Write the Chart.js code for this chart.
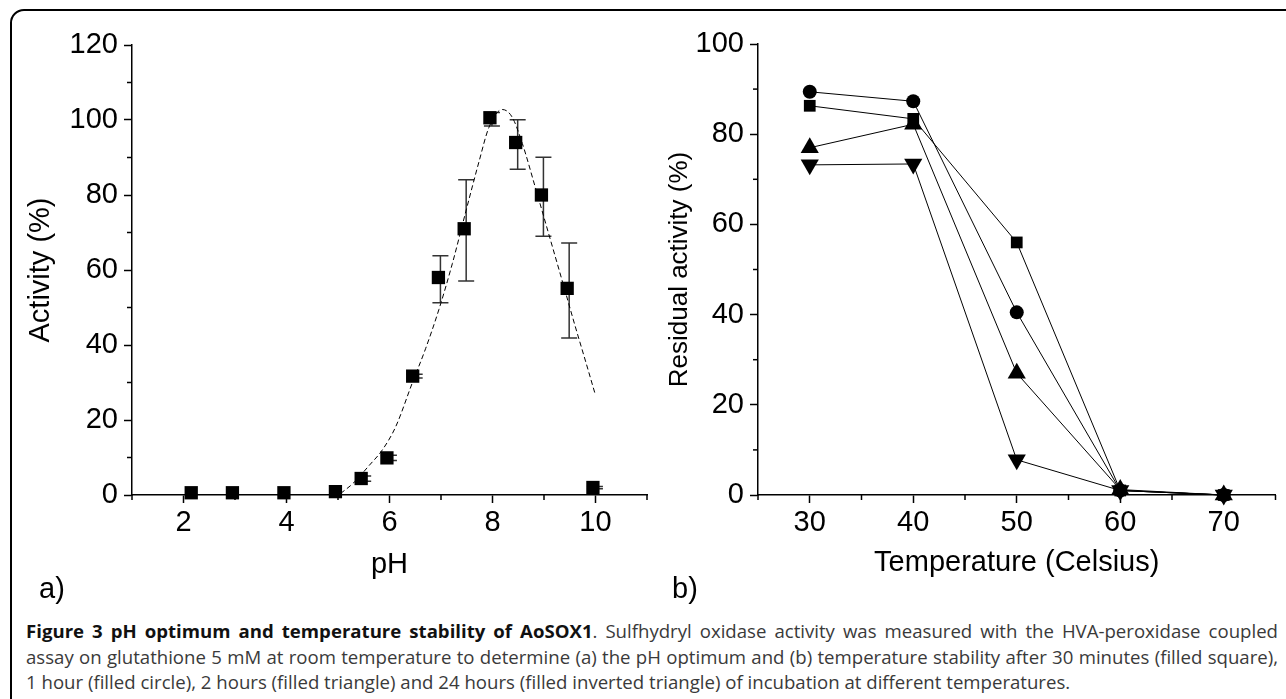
<!DOCTYPE html>
<html>
<head>
<meta charset="utf-8">
<script src="https://cdn.jsdelivr.net/npm/chart.js@4.4.1/dist/chart.umd.min.js"></script>
<style>
body { margin:0; width:1286px; height:699px; overflow:hidden; background:#fff; position:relative; font-family:"Liberation Sans", Arial, sans-serif; }
#frame { position:absolute; left:10px; top:9px; width:1300px; height:720px; border:2px solid #000; border-radius:14px; }
#phChart { position:absolute; left:0; top:0; }
#tempChart { position:absolute; left:640px; top:0; }
.panel { position:absolute; top:571px; font-size:29px; line-height:34px; color:#000; }
.cap { position:absolute; left:26px; font-family:"Open Sans", sans-serif; font-size:18px; line-height:25px; white-space:nowrap; transform-origin:0 0; color:#3a3a3a; text-align:justify; text-align-last:justify; }
.cap b { color:#111; }
</style>
</head>
<body>
<div id="frame"></div>
<canvas id="phChart" width="660" height="595"></canvas>
<canvas id="tempChart" width="646" height="595"></canvas>
<div class="panel" style="left:39px">a)</div>
<div class="panel" style="left:672px">b)</div>
<div class="cap" style="top:619px"><b>Figure 3 pH optimum and temperature stability of AoSOX1</b>. Sulfhydryl oxidase activity was measured with the HVA-peroxidase coupled</div>
<div class="cap" style="top:645px">assay on glutathione 5 mM at room temperature to determine (a) the pH optimum and (b) temperature stability after 30 minutes (filled square),</div>
<div class="cap" style="top:670px;text-align:left;text-align-last:left">1 hour (filled circle), 2 hours (filled triangle) and 24 hours (filled inverted triangle) of incubation at different temperatures.</div>
<script>
// panel a: pH optimum
const phValues = [2.15, 2.95, 3.95, 4.95, 5.45, 5.95, 6.45, 6.95, 7.45, 7.95, 8.45, 8.95, 9.45, 9.95]
const activity = [0.6, 0.6, 0.6, 0.9, 4.4, 9.9, 31.7, 58.0, 71.0, 100.6, 94.0, 80.0, 55.1, 2.0]
const activityLow = [0.6, 0.6, 0.6, 0.9, 3.7, 9.2, 31.2, 51.3, 57.1, 98.4, 86.9, 69.0, 41.9, 1.7]
const activityHigh = [0.6, 0.6, 0.6, 0.9, 5.1, 10.6, 32.2, 63.8, 84.1, 102.0, 100.1, 90.1, 67.2, 2.3]
const fitPh = [5.05, 5.3, 5.6, 5.86, 6.12, 6.44, 6.70, 6.96, 7.22, 7.48, 7.74, 7.93, 8.19, 8.38, 8.58, 8.83, 9.09, 9.35, 9.61, 9.80, 10.0]
const fitActivity = [0.4, 3.2, 7.8, 12.0, 18.2, 29.8, 39.0, 49.5, 61.7, 75.5, 89.0, 98.0, 102.8, 100.8, 93.7, 82.1, 69.7, 57.3, 44.8, 36.0, 26.6]
const phTicks = [2, 4, 6, 8, 10]
const phMinor = [1, 3, 5, 7, 9, 11]
const activityTicks = [0, 20, 40, 60, 80, 100, 120]
const activityMinor = [10, 30, 50, 70, 90, 110]

// panel b: temperature stability
const temps = [30, 40, 50, 60, 70]
const res30min = [86.3, 83.4, 56.0, 1.0, 0]
const res1h = [89.4, 87.3, 40.5, 1.0, 0]
const res2h = [77.0, 82.2, 27.0, 1.2, 0]
const res24h = [73.2, 73.4, 7.8, 1.0, 0]
const tempTicks = [30, 40, 50, 60, 70]
const tempMinor = [25, 35, 45, 55, 65, 75]
const residualTicks = [0, 20, 40, 60, 80, 100]
const residualMinor = [10, 30, 50, 70, 90]

const tickFont = { family: "'Liberation Sans', Arial, sans-serif", size: 29 }

const minorTickPlugin = {
    id: 'minorTicks',
    afterDraw(chart, args, opts) {
        const ctx = chart.ctx
        const xs = chart.scales.x
        const ys = chart.scales.y
        ctx.save()
        ctx.strokeStyle = '#000'
        ctx.lineWidth = 1.5
        opts.x.forEach(v => {
            const px = xs.getPixelForValue(v)
            ctx.beginPath(); ctx.moveTo(px, xs.top); ctx.lineTo(px, xs.top + 5); ctx.stroke()
        })
        opts.y.forEach(v => {
            const py = ys.getPixelForValue(v)
            ctx.beginPath(); ctx.moveTo(ys.right, py); ctx.lineTo(ys.right - 5, py); ctx.stroke()
        })
        ctx.restore()
    }
}

const errorBarPlugin = {
    id: 'errorBars',
    beforeDatasetsDraw(chart, args, opts) {
        if (!opts.low) return
        const ctx = chart.ctx
        const xs = chart.scales.x
        const ys = chart.scales.y
        ctx.save()
        ctx.strokeStyle = '#333'
        ctx.lineWidth = 1.5
        opts.low.forEach((lo, i) => {
            const px = xs.getPixelForValue(opts.xs[i]) + 2
            const y1 = ys.getPixelForValue(lo)
            const y2 = ys.getPixelForValue(opts.high[i])
            if (Math.abs(y1 - y2) < 0.5) return
            ctx.beginPath()
            ctx.moveTo(px, y1); ctx.lineTo(px, y2)
            ctx.moveTo(px - 8, y1); ctx.lineTo(px + 8, y1)
            ctx.moveTo(px - 8, y2); ctx.lineTo(px + 8, y2)
            ctx.stroke()
        })
        ctx.restore()
    }
}

function makeScale(min, max, tickValues, title, titleFont, titlePad, fitSize, horizontal) {
    return {
        type: 'linear', min: min, max: max,
        afterBuildTicks: s => { s.ticks = tickValues.map(v => ({ value: v })) },
        afterFit: s => { if (horizontal) s.height = fitSize; else s.width = fitSize },
        border: { display: true, color: '#000', width: 1.5 },
        grid: { drawOnChartArea: false, drawTicks: true, tickLength: 8, tickWidth: 1.5, tickColor: '#000', color: '#000' },
        ticks: { color: '#000', font: tickFont, padding: horizontal ? 3 : 6, maxRotation: 0, autoSkip: false },
        title: { display: true, text: title, color: '#000', font: titleFont, padding: titlePad }
    }
}

const toPoints = (xs, ys) => xs.map((x, i) => ({ x: x, y: ys[i] }))

new Chart(document.getElementById('phChart'), {
    type: 'scatter',
    data: {
        datasets: [
            { data: toPoints(phValues, activity), pointStyle: 'rect', pointRadius: 9.4,
              pointBackgroundColor: '#000', pointBorderColor: '#000', pointBorderWidth: 0, clip: false, order: 0 },
            { type: 'line', data: toPoints(fitPh, fitActivity), borderColor: '#000', borderWidth: 1,
              borderDash: [5, 3], pointRadius: 0, cubicInterpolationMode: 'monotone', fill: false, order: 1 }
        ]
    },
    options: {
        responsive: false, animation: false, events: [],
        layout: { padding: { top: 45, right: 13, left: 0, bottom: 0 } },
        plugins: {
            legend: { display: false }, tooltip: { enabled: false },
            minorTicks: { x: phMinor, y: activityMinor },
            errorBars: { xs: phValues, low: activityLow, high: activityHigh }
        },
        scales: {
            x: makeScale(1, 11, phTicks, 'pH', tickFont, { bottom: 13 }, 100, true),
            y: makeScale(0, 120, activityTicks, 'Activity (%)', tickFont, { top: 24 }, 132, false)
        }
    },
    plugins: [minorTickPlugin, errorBarPlugin]
})

const lineStyle = { borderColor: '#000', borderWidth: 1, pointBackgroundColor: '#000', pointBorderColor: '#000', pointBorderWidth: 0, clip: false, fill: false }

new Chart(document.getElementById('tempChart'), {
    type: 'line',
    data: {
        datasets: [
            Object.assign({ label: '30 min', data: toPoints(temps, res30min), pointStyle: 'rect', pointRadius: 8.3 }, lineStyle),
            Object.assign({ label: '1 h', data: toPoints(temps, res1h), pointStyle: 'circle', pointRadius: 7 }, lineStyle),
            Object.assign({ label: '2 h', data: toPoints(temps, res2h), pointStyle: 'triangle', pointRadius: 10.5 }, lineStyle),
            Object.assign({ label: '24 h', data: toPoints(temps, res24h), pointStyle: 'triangle', pointRotation: 180, pointRadius: 10.5 }, lineStyle)
        ]
    },
    options: {
        responsive: false, animation: false, events: [],
        layout: { padding: { top: 44, right: 9, left: 0, bottom: 0 } },
        plugins: {
            legend: { display: false }, tooltip: { enabled: false },
            minorTicks: { x: tempMinor, y: residualMinor },
            errorBars: {}
        },
        scales: {
            x: makeScale(25, 75, tempTicks, 'Temperature (Celsius)', tickFont, { bottom: 15 }, 100, true),
            y: makeScale(0, 100, residualTicks, 'Residual activity (%)', { family: tickFont.family, size: 26 }, { top: 24 }, 118, false)
        }
    },
    plugins: [minorTickPlugin, errorBarPlugin]
})

// squeeze the caption to the condensed width of the original
const capLines = document.querySelectorAll('.cap')
const squeeze = 1044 / capLines[2].offsetWidth
capLines.forEach((el, i) => {
    el.style.transform = 'scaleX(' + squeeze + ')'
    if (i < 2) el.style.width = (1252 / squeeze) + 'px'
})
</script>
</body>
</html>
